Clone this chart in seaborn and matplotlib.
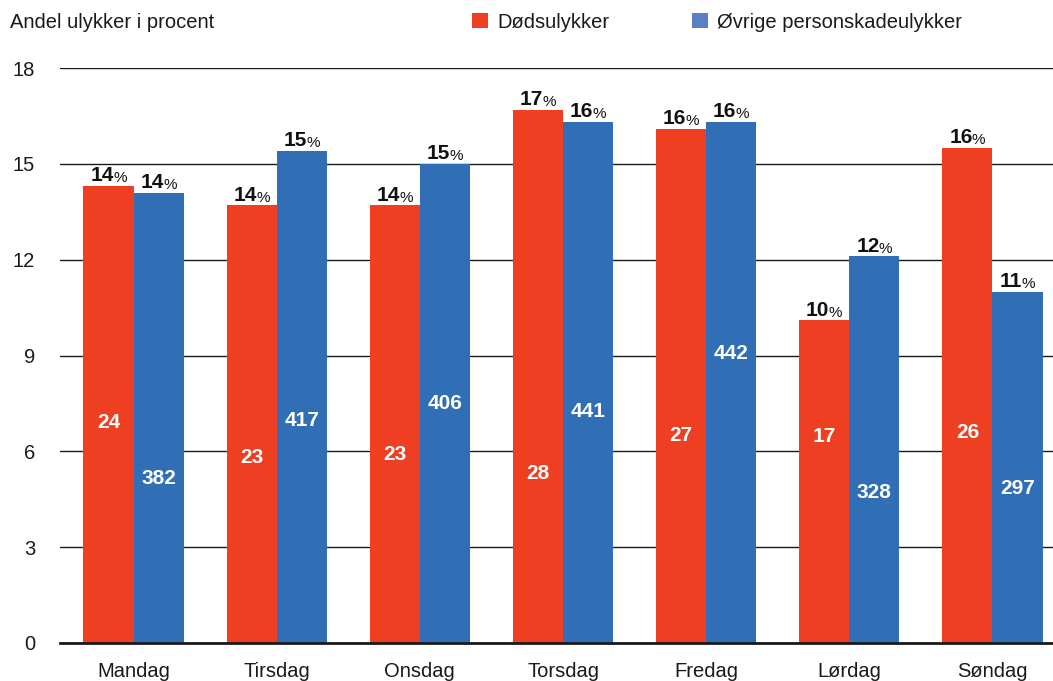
import matplotlib
matplotlib.use("Agg")
import matplotlib.pyplot as plt
import seaborn as sns
import pandas as pd
from matplotlib.patches import Patch

days = ["Mandag", "Tirsdag", "Onsdag", "Torsdag", "Fredag", "Lørdag", "Søndag"]
series_names = ["Dødsulykker", "Øvrige personskadeulykker"]
pct_dod = [14.3, 13.7, 13.7, 16.7, 16.1, 10.1, 15.5]
pct_ovr = [14.1, 15.4, 15.0, 16.3, 16.3, 12.1, 11.0]
count_dod = [24, 23, 23, 28, 27, 17, 26]
count_ovr = [382, 417, 406, 441, 442, 328, 297]
pct_label_dod = ["14", "14", "14", "17", "16", "10", "16"]
pct_label_ovr = ["14", "15", "15", "16", "16", "12", "11"]
# vertical placement (data units) of the count labels inside the bars
count_y_dod = [6.9, 5.8, 5.9, 5.3, 6.5, 6.45, 6.6]
count_y_ovr = [5.15, 6.95, 7.5, 7.25, 9.05, 4.7, 4.85]
yticks = [0, 3, 6, 9, 12, 15, 18]

RED = "#EE3F23"
BLUE = "#306EB6"
LEG_BLUE = "#5A7FC2"

df = pd.DataFrame({
    "dag": days * 2,
    "serie": [series_names[0]] * 7 + [series_names[1]] * 7,
    "pct": pct_dod + pct_ovr,
})

sns.set_style("white")
plt.rcParams["font.family"] = ["Liberation Sans", "DejaVu Sans"]

W, H = 1053, 681
fig = plt.figure(figsize=(W / 100, H / 100), dpi=100)
ax = fig.add_axes([60 / W, (H - 643) / H, 1002 / W, 575 / H])

sns.barplot(data=df, x="dag", y="pct", hue="serie", order=days,
            hue_order=series_names, palette=[RED, BLUE], width=0.7,
            gap=0, saturation=1, linewidth=0, ax=ax, legend=False, errorbar=None)

sh = 2 / 143
ax.set_xlim(-0.5 - sh, 6.5 - sh)
ax.set_ylim(0, 18)
ax.set_yticks(yticks)
ax.set_yticklabels([str(t) for t in yticks], fontsize=14.5, color="#1a1a1a")
ax.tick_params(axis="y", length=0, pad=18)
ax.tick_params(axis="x", length=0, pad=14, labelsize=14.5, labelcolor="#1a1a1a")
ax.set_xlabel("")
ax.set_ylabel("")
ax.set_axisbelow(True)
ax.yaxis.grid(True, color="#1a1a1a", linewidth=1)
for s in ["top", "right", "left"]:
    ax.spines[s].set_visible(False)
ax.spines["bottom"].set_color("#1a1a1a")
ax.spines["bottom"].set_linewidth(2)

bw = 0.35
for i in range(7):
    for xoff, pct, lab, cnt, cy in [(-bw / 2, pct_dod[i], pct_label_dod[i], count_dod[i], count_y_dod[i]),
                                    (bw / 2, pct_ovr[i], pct_label_ovr[i], count_ovr[i], count_y_ovr[i])]:
        x = i + xoff
        t = ax.annotate(lab, xy=(x - 0.045, pct), xytext=(0, 3.5), textcoords="offset points",
                        ha="center", va="baseline", fontsize=15, fontweight="bold", color="#111111")
        ax.annotate("%", xy=(1, 0), xycoords=t, xytext=(-0.5, 0), textcoords="offset points",
                    ha="left", va="bottom", fontsize=11, color="#111111")
        ax.text(x, cy, str(cnt), ha="center", va="center", fontsize=15,
                fontweight="bold", color="white")

fig.text(10 / W, 1 - 22 / H, "Andel ulykker i procent", fontsize=14.5, color="#1a1a1a",
         ha="left", va="center")

handles = [Patch(facecolor=RED, edgecolor="none"), Patch(facecolor=LEG_BLUE, edgecolor="none")]
fig.legend(handles, series_names, loc="center left", bbox_to_anchor=(454 / W, 1 - 22 / H),
           ncol=2, frameon=False, fontsize=14.5, handlelength=0.8, handleheight=0.8,
           handletextpad=0.45, columnspacing=4.1, labelcolor="#1a1a1a")

fig.savefig("out.png", dpi=100)
